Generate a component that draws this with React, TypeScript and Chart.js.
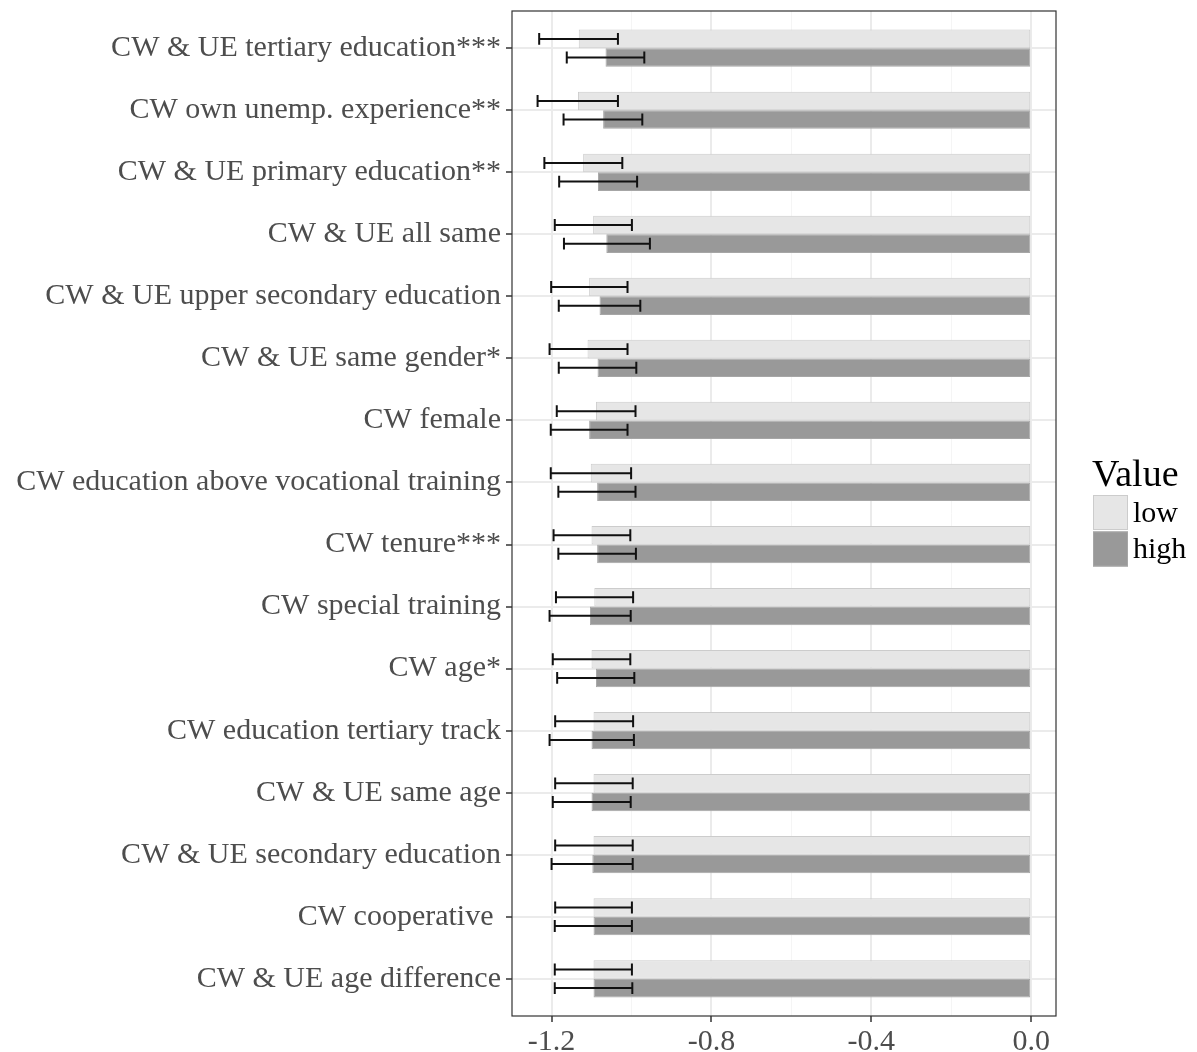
import { useEffect, useRef } from "react";
import { Chart, registerables } from "chart.js";

Chart.register(...registerables);

const categories = [
  "CW & UE tertiary education***",
  "CW own unemp. experience**",
  "CW & UE primary education**",
  "CW & UE all same",
  "CW & UE upper secondary education",
  "CW & UE same gender*",
  "CW female",
  "CW education above vocational training",
  "CW tenure***",
  "CW special training",
  "CW age*",
  "CW education tertiary track",
  "CW & UE same age",
  "CW & UE secondary education",
  "CW cooperative ",
  "CW & UE age difference",
];

const lowValues = [-1.132, -1.134, -1.121, -1.096, -1.106, -1.11, -1.089, -1.102, -1.1, -1.093, -1.1, -1.095, -1.095, -1.095, -1.095, -1.095];
const lowLower = [-1.231, -1.235, -1.218, -1.192, -1.201, -1.205, -1.187, -1.202, -1.195, -1.189, -1.197, -1.191, -1.191, -1.191, -1.191, -1.192];
const lowUpper = [-1.034, -1.034, -1.023, -0.999, -1.01, -1.01, -0.99, -1.001, -1.003, -0.996, -1.003, -0.996, -0.997, -0.997, -0.999, -0.999];

const highValues = [-1.065, -1.071, -1.084, -1.063, -1.08, -1.085, -1.106, -1.086, -1.086, -1.104, -1.089, -1.1, -1.1, -1.098, -1.095, -1.095];
const highLower = [-1.162, -1.17, -1.181, -1.169, -1.182, -1.182, -1.202, -1.183, -1.183, -1.205, -1.186, -1.205, -1.197, -1.2, -1.192, -1.192];
const highUpper = [-0.968, -0.973, -0.986, -0.954, -0.978, -0.988, -1.01, -0.99, -0.989, -1.002, -0.993, -0.994, -1.002, -0.997, -0.999, -0.998];

const majorTicks = [-1.2, -0.8, -0.4, 0.0];
const minorTicks = [-1.0, -0.6, -0.2];
const majorTickLabels = ["-1.2", "-0.8", "-0.4", "0.0"];

const legendTitle = "Value";

const FONT = '"Liberation Serif", "Times New Roman", serif';

const isMajor = (v: number) => majorTicks.some((m) => Math.abs(m - v) < 1e-6);

const errorBarPlugin = {
  id: "errorBars",
  afterDatasetsDraw(chart: any) {
    const ctx = chart.ctx;
    const xs = chart.scales.x;
    chart.data.datasets.forEach((ds: any, di: number) => {
      const meta = chart.getDatasetMeta(di);
      if (meta.hidden) return;
      meta.data.forEach((el: any, i: number) => {
        const { y, height } = el.getProps(["y", "height"], true);
        const lo = xs.getPixelForValue(ds.errLow[i]);
        const hi = xs.getPixelForValue(ds.errHigh[i]);
        const cap = (Math.abs(height) * 0.64) / 2;
        ctx.save();
        ctx.strokeStyle = "#111";
        ctx.lineWidth = 2;
        ctx.beginPath();
        ctx.moveTo(lo, y);
        ctx.lineTo(hi, y);
        ctx.moveTo(lo, y - cap);
        ctx.lineTo(lo, y + cap);
        ctx.moveTo(hi, y - cap);
        ctx.lineTo(hi, y + cap);
        ctx.stroke();
        ctx.restore();
      });
    });
  },
};

const panelBorderPlugin = {
  id: "panelBorder",
  afterDraw(chart: any) {
    const { left, top, width, height } = chart.chartArea;
    const ctx = chart.ctx;
    ctx.save();
    ctx.strokeStyle = "#333";
    ctx.lineWidth = 1.2;
    ctx.strokeRect(left, top, width, height);
    ctx.restore();
  },
};

const sideLegendPlugin = {
  id: "sideLegend",
  afterDraw(chart: any) {
    const ctx = chart.ctx;
    const { right, top, bottom } = chart.chartArea;
    const cy = (top + bottom) / 2;
    ctx.save();
    ctx.fillStyle = "#000";
    ctx.textBaseline = "alphabetic";
    ctx.textAlign = "left";
    ctx.font = `38px ${FONT}`;
    ctx.fillText(legendTitle, right + 36, cy - 27.5);
    ctx.font = `30px ${FONT}`;
    chart.data.datasets.forEach((ds: any, i: number) => {
      const bx = right + 37;
      const by = cy - 18.5 + i * 36.5;
      ctx.fillStyle = ds.backgroundColor;
      ctx.fillRect(bx, by, 35, 35);
      ctx.strokeStyle = ds.borderColor;
      ctx.lineWidth = 1;
      ctx.strokeRect(bx + 0.5, by + 0.5, 34, 34);
      ctx.fillStyle = "#000";
      ctx.fillText(ds.label, right + 77, by + 26.5);
    });
    ctx.restore();
  },
};

export default function App() {
  const canvasRef = useRef<HTMLCanvasElement | null>(null);

  useEffect(() => {
    const canvas = canvasRef.current;
    if (!canvas) return;
    const chart = new Chart(canvas, {
      type: "bar",
      data: {
        datasets: [
          {
            label: "low",
            data: lowValues.map((v, i) => ({ x: v, y: i })),
            errLow: lowLower,
            errHigh: lowUpper,
            backgroundColor: "#e6e6e6",
            borderColor: "#cccccc",
            borderWidth: 1,
            borderSkipped: false,
          } as any,
          {
            label: "high",
            data: highValues.map((v, i) => ({ x: v, y: i })),
            errLow: highLower,
            errHigh: highUpper,
            backgroundColor: "#999999",
            borderColor: "#a6a6a6",
            borderWidth: 1,
            borderSkipped: false,
          } as any,
        ],
      },
      options: {
        indexAxis: "y",
        animation: false,
        responsive: false,
        devicePixelRatio: 1,
        datasets: { bar: { categoryPercentage: 0.6, barPercentage: 1 } },
        layout: { padding: { left: 0, top: 11, right: 141, bottom: 0 } },
        plugins: { legend: { display: false }, tooltip: { enabled: false } },
        scales: {
          x: {
            type: "linear",
            position: "bottom",
            min: -1.299,
            max: 0.062,
            offset: false,
            afterBuildTicks: (axis: any) => {
              axis.ticks = [...majorTicks, ...minorTicks].sort((a, b) => a - b).map((v) => ({ value: v }));
            },
            afterFit: (scale: any) => {
              scale.height = 36;
              scale.paddingLeft = 0;
              scale.paddingRight = 0;
            },
            border: { display: false },
            grid: {
              offset: false,
              color: (c: any) => (c.tick && isMajor(c.tick.value) ? "#ebebeb" : "#f5f5f5"),
              lineWidth: (c: any) => (c.tick && isMajor(c.tick.value) ? 2 : 1),
              tickColor: (c: any) => (c.tick && isMajor(c.tick.value) ? "#333" : "rgba(0,0,0,0)"),
              tickLength: 6,
              tickWidth: 1.5,
            },
            ticks: {
              autoSkip: false,
              maxRotation: 0,
              padding: 2,
              color: "#4d4d4d",
              font: { family: FONT, size: 30 },
              callback: (v: any) => {
                const idx = majorTicks.findIndex((m) => Math.abs(m - Number(v)) < 1e-6);
                return idx >= 0 ? majorTickLabels[idx] : "";
              },
            },
          },
          y: {
            type: "linear",
            position: "left",
            reverse: true,
            offset: false,
            min: -0.6,
            max: categories.length - 0.4,
            afterBuildTicks: (axis: any) => {
              axis.ticks = categories.map((_, i) => ({ value: i }));
            },
            afterFit: (scale: any) => {
              scale.width = 512;
              scale.paddingTop = 0;
              scale.paddingBottom = 0;
            },
            border: { display: false },
            grid: {
              offset: false,
              color: "#ebebeb",
              lineWidth: 2,
              tickColor: "#333",
              tickLength: 6,
              tickWidth: 1.5,
            },
            ticks: {
              autoSkip: false,
              padding: 5,
              color: "#4d4d4d",
              font: { family: FONT, size: 30 },
              callback: (v: any) => categories[Math.round(Number(v))] ?? "",
            },
          },
        },
      } as any,
      plugins: [errorBarPlugin, panelBorderPlugin, sideLegendPlugin],
    });
    return () => chart.destroy();
  }, []);

  return (
    <div style={{ position: "absolute", left: 0, top: 0, width: 1197, height: 1052, background: "#fff" }}>
      <canvas ref={canvasRef} width={1197} height={1052} style={{ display: "block" }} />
    </div>
  );
}
